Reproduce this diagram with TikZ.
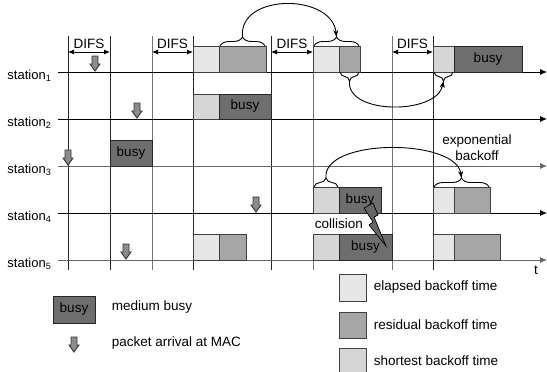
\documentclass[tikz,border=0pt]{standalone}
\usepackage{fontspec}
\setmainfont{Liberation Sans}
\definecolor{elapsedgray}{RGB}{230,230,230}
\definecolor{residualgray}{RGB}{166,166,166}
\definecolor{shortestgray}{RGB}{214,214,214}
\definecolor{busygray}{RGB}{110,110,110}
\definecolor{arrivalgray}{RGB}{140,140,140}
\usepackage{tikz}
\usetikzlibrary{arrows.meta,decorations.pathreplacing}

\tikzset{
    elapsed/.style={draw=black!75, fill=elapsedgray},
    residual/.style={draw=black!75, fill=residualgray},
    shortest/.style={draw=black!75, fill=shortestgray},
    busy/.style={draw=black!85, fill=busygray},
    bracket/.style={decorate, decoration={brace, amplitude=9pt}},
    hop/.style={-{Stealth[length=7pt,width=5pt]}},
    difs/.style={{Latex[length=6pt,width=5pt]}-{Latex[length=6pt,width=5pt]}},
    pkt/.pic={\draw[fill=arrivalgray, draw=black!80] (0,0) -- (5,-7) -- (3,-7) -- (3,-15) -- (-3,-15) -- (-3,-7) -- (-5,-7) -- cycle;}
}

\begin{document}
\begin{tikzpicture}[x=1pt, y=-1pt, line width=0.9pt, font=\fontsize{13.5}{16}\selectfont]
        \useasboundingbox (0,0) rectangle (547,372);
        \clip (0,0) rectangle (547,372);

        % Slot boundaries
        \foreach \x/\c in {68/black!85, 110/black!85, 152/black!55, 193/black!85, 271/black!85, 313/black!55, 392/black!55, 433/black!85} {
            \draw[\c] (\x,36) -- (\x,270);
        }

        % Station time lines
        \foreach \y/\c [count=\i] in {72/black, 119/black, 166/black!60, 213/black, 260/black!60} {
            \draw[\c, -{Latex[length=7pt,width=6pt]}] (58,\y) -- (547,\y);
            \node[anchor=base west, inner sep=0pt, font=\fontsize{13}{15}\selectfont] (st\i) at (7,\y+7) {station\textsubscript{\i}};
        }
        \node (tlabel) at (536,270) {t};

        % DIFS intervals
        \foreach \a/\b [count=\i] in {68/110, 152/193, 271/313, 392/433} {
            \draw[difs] (\a,52) -- (\b,52) node[midway, above=0pt] (difs\i) {DIFS};
        }

        % Station 1
        \draw[elapsed] (193,46) rectangle (219,72);
        \draw[residual] (219,46) rectangle (266,72);
        \draw[elapsed] (313,46) rectangle (339,72);
        \draw[residual] (339,46) rectangle (360,72);
        \draw[shortest] (433,46) rectangle (454,72);
        \draw[busy] (454,46) rectangle (522,72) node[pos=.5] (busy1) {busy};

        % Station 2
        \draw[shortest] (193,94) rectangle (219,119);
        \draw[busy] (219,94) rectangle (271,119) node[pos=.5] (busy2) {busy};

        % Station 3
        \draw[busy] (110,140) rectangle (152,166) node[pos=.5] (busy3) {busy};

        % Station 4
        \draw[shortest] (313,187) rectangle (339,213);
        \draw[busy] (339,187) rectangle (381,213) node[pos=.5] (busy4) {busy};
        \draw[elapsed] (433,187) rectangle (454,213);
        \draw[residual] (454,187) rectangle (490,213);

        % Station 5
        \draw[elapsed] (193,234) rectangle (219,260);
        \draw[residual] (219,234) rectangle (246,260);
        \draw[shortest] (313,234) rectangle (339,260);
        \draw[busy] (339,234) rectangle (392,260) node[pos=.5] (busy5) {busy};
        \draw[elapsed] (433,234) rectangle (454,260);
        \draw[residual] (454,234) rectangle (500,260);

        % Braces over the backoff slots
        \draw[bracket] (220,46) -- (265,46);
        \draw[bracket] (314,46) -- (359,46);
        \draw[bracket] (359,72) -- (340,72);
        \draw[bracket] (453,72) -- (434,72);
        \draw[bracket] (314,187) -- (338,187);
        \draw[bracket] (434,187) -- (489,187);
        \coordinate (tipA) at (242.5,37);
        \coordinate (tipB) at (336.5,37);
        \coordinate (tipC) at (349.5,81);
        \coordinate (tipD) at (443.5,81);
        \coordinate (tipE) at (326,178);
        \coordinate (tipF) at (461.5,178);

        % Backoff carried over
        \draw[hop] (tipA) .. controls (238,-7) and (332,-7) .. (tipB);
        \draw[hop] (tipC) .. controls (346,115) and (437,115) .. (tipD);
        \draw[hop] (tipE) .. controls (322,138) and (456,138) .. (tipF);
        \node[align=center] (expo) at (477,148) {exponential\\backoff};

        % Collision
        \node[fill=white, anchor=west, inner sep=1.5pt, minimum height=20pt] (coll) at (313,223.5) {collision};
        \draw[fill=black!60, draw=black, line width=0.7pt] (364,208) -- (373,203) -- (378,215) -- (374,217) -- (386,246) -- (369,225) -- (373,222) -- cycle;

        % Packet arrivals
        \foreach \x/\y in {95/71, 137/118, 68/165, 256/212, 126/259} {
            \pic at (\x,\y) {pkt};
        }

        % Legend
        \draw[busy] (53,296) rectangle (95,323) node[pos=.5] (legbusy) {busy};
        \node[anchor=west] (legbusytxt) at (108,307) {medium busy};
        \pic at (74,352) {pkt};
        \node[anchor=west] (legpkttxt) at (108,343) {packet arrival at MAC};
        \draw[elapsed] (339,274) rectangle (366,301);
        \node[anchor=west] (legelapsed) at (370,287) {elapsed backoff time};
        \draw[residual] (339,312) rectangle (366,338);
        \node[anchor=west] (legresidual) at (370,325) {residual backoff time};
        \draw[shortest] (339,348) rectangle (366,378);
        \node[anchor=west] (legshortest) at (370,361) {shortest backoff time};
    \end{tikzpicture}
\end{document}
